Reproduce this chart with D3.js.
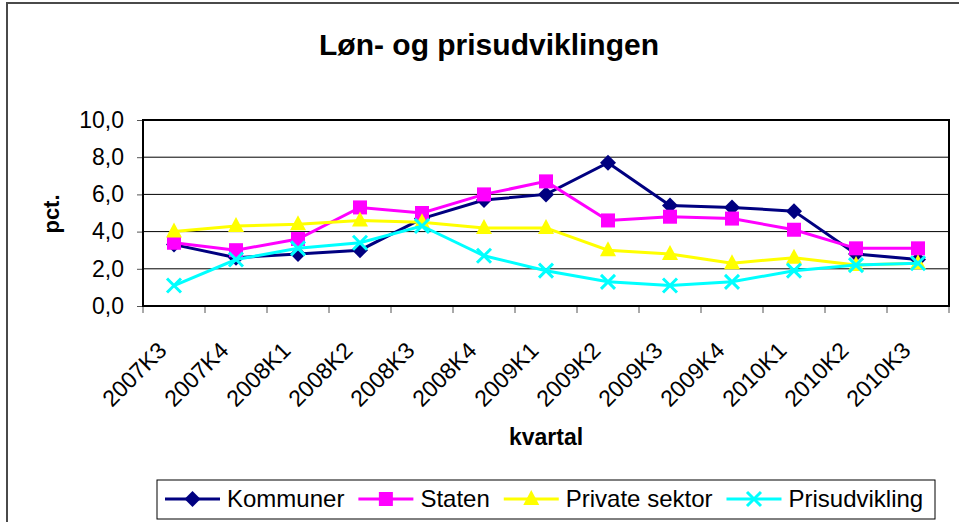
<!DOCTYPE html>
<html lang="da">
<head>
    <meta charset="UTF-8">
    <title>Løn- og prisudviklingen</title>
    <script src="https://d3js.org/d3.v7.min.js"></script>
    <style>
        body {
            margin: 0;
            background: #fff;
            font-family: Arial, "Liberation Sans", sans-serif;
        }
        svg text {
            fill: #000;
        }
    </style>
</head>
<body>
    <div id="chart"></div>

    <script>
        // quarters on the x axis
        const kvartaler = ["2007K3", "2007K4", "2008K1", "2008K2", "2008K3", "2008K4", "2009K1",
                           "2009K2", "2009K3", "2009K4", "2010K1", "2010K2", "2010K3"];

        // series values (pct.)
        const kommuner      = [3.3, 2.6, 2.8, 3.0, 4.7, 5.7, 6.0, 7.7, 5.4, 5.3, 5.1, 2.8, 2.5];
        const staten        = [3.4, 3.0, 3.6, 5.3, 5.0, 6.0, 6.7, 4.6, 4.8, 4.7, 4.1, 3.1, 3.1];
        const privateSektor = [4.0, 4.3, 4.4, 4.6, 4.5, 4.2, 4.2, 3.0, 2.8, 2.3, 2.6, 2.2, 2.3];
        const prisudvikling = [1.1, 2.5, 3.1, 3.4, 4.3, 2.7, 1.9, 1.3, 1.1, 1.3, 1.9, 2.2, 2.3];

        const yTicks = [0, 2, 4, 6, 8, 10];

        const series = [
            { name: "Kommuner", values: kommuner, color: "#000080", marker: "diamond" },
            { name: "Staten", values: staten, color: "#ff00ff", marker: "square" },
            { name: "Private sektor", values: privateSektor, color: "#ffff00", marker: "triangle" },
            { name: "Prisudvikling", values: prisudvikling, color: "#00ffff", marker: "cross" }
        ];

        const w = 959;
        const h = 522;
        const plot = { left: 143, right: 949, top: 120, bottom: 306 };

        const svg = d3.select("#chart")
            .append("svg")
            .attr("width", w)
            .attr("height", h);

        // outer chart frame (runs off the right and bottom edge)
        svg.append("rect")
            .attr("x", 7)
            .attr("y", 3)
            .attr("width", 970)
            .attr("height", 540)
            .attr("fill", "#fff")
            .attr("stroke", "#4a4a4a")
            .attr("stroke-width", 2);

        svg.append("text")
            .attr("x", 489)
            .attr("y", 55)
            .attr("text-anchor", "middle")
            .style("font-size", "30px")
            .style("font-weight", "bold")
            .text("Løn- og prisudviklingen");

        const xScale = d3.scaleBand()
            .domain(kvartaler)
            .range([plot.left, plot.right])
            .padding(0);

        const yScale = d3.scaleLinear()
            .domain([0, 10])
            .range([plot.bottom, plot.top]);

        const cx = d => xScale(d) + xScale.bandwidth() / 2;

        // gridlines
        svg.append("g")
            .selectAll("line")
            .data(yTicks.slice(1, -1))
            .enter()
            .append("line")
            .attr("x1", plot.left)
            .attr("x2", plot.right)
            .attr("y1", d => yScale(d))
            .attr("y2", d => yScale(d))
            .attr("stroke", "#000")
            .attr("stroke-width", 1);

        // y axis
        const yAxis = d3.axisLeft(yScale)
            .tickValues(yTicks)
            .tickSize(6)
            .tickPadding(13)
            .tickFormat(d => d3.format(".1f")(d).replace(".", ","));

        const gy = svg.append("g")
            .attr("transform", `translate(${plot.left}, 0)`)
            .call(yAxis);
        gy.select(".domain").remove();
        gy.selectAll(".tick line").attr("stroke", "#555");
        gy.selectAll(".tick text")
            .style("font-size", "23px")
            .style("font-family", "Arial, 'Liberation Sans', sans-serif");

        // x axis ticks at category boundaries
        const boundaries = kvartaler.map(d => xScale(d)).concat([plot.right]);
        svg.append("g")
            .selectAll("line")
            .data(boundaries)
            .enter()
            .append("line")
            .attr("x1", d => d)
            .attr("x2", d => d)
            .attr("y1", plot.bottom)
            .attr("y2", plot.bottom + 7)
            .attr("stroke", "#555")
            .attr("stroke-width", 1);

        svg.append("g")
            .selectAll("text")
            .data(kvartaler)
            .enter()
            .append("text")
            .attr("text-anchor", "end")
            .attr("transform", d => `translate(${cx(d) - 6}, ${plot.bottom + 46}) rotate(-45)`)
            .style("font-size", "23px")
            .text(d => d);

        // plot frame
        svg.append("rect")
            .attr("x", plot.left)
            .attr("y", plot.top)
            .attr("width", plot.right - plot.left)
            .attr("height", plot.bottom - plot.top)
            .attr("fill", "none")
            .attr("stroke", "#000")
            .attr("stroke-width", 2);

        // axis titles
        svg.append("text")
            .attr("transform", "translate(59, 214) rotate(-90)")
            .attr("text-anchor", "middle")
            .style("font-size", "22px")
            .style("font-weight", "bold")
            .text("pct.");

        svg.append("text")
            .attr("x", (plot.left + plot.right) / 2)
            .attr("y", 445)
            .attr("text-anchor", "middle")
            .style("font-size", "23px")
            .style("font-weight", "bold")
            .text("kvartal");

        // marker drawing
        function drawMarker(g, type, color) {
            if (type === "diamond") {
                g.append("path")
                    .attr("d", "M0,-8L8,0L0,8L-8,0Z")
                    .attr("fill", color);
            } else if (type === "square") {
                g.append("rect")
                    .attr("x", -7).attr("y", -7)
                    .attr("width", 14).attr("height", 14)
                    .attr("fill", color);
            } else if (type === "triangle") {
                g.append("path")
                    .attr("d", "M0,-9L8,6L-8,6Z")
                    .attr("fill", color);
            } else {
                g.append("path")
                    .attr("d", "M-7,-7L7,7M-7,7L7,-7")
                    .attr("stroke", color)
                    .attr("stroke-width", 3)
                    .attr("fill", "none");
            }
        }

        const line = d3.line()
            .x((d, i) => cx(kvartaler[i]))
            .y(d => yScale(d));

        series.forEach(s => {
            svg.append("path")
                .datum(s.values)
                .attr("d", line)
                .attr("fill", "none")
                .attr("stroke", s.color)
                .attr("stroke-width", 3);

            s.values.forEach((v, i) => {
                const g = svg.append("g")
                    .attr("transform", `translate(${cx(kvartaler[i])}, ${yScale(v)})`);
                drawMarker(g, s.marker, s.color);
            });
        });

        // legend
        const legend = svg.append("g");
        legend.append("rect")
            .attr("x", 157)
            .attr("y", 480)
            .attr("width", 778)
            .attr("height", 39)
            .attr("fill", "#fff")
            .attr("stroke", "#000")
            .attr("stroke-width", 1);

        let lx = 165;
        series.forEach(s => {
            legend.append("line")
                .attr("x1", lx)
                .attr("x2", lx + 55)
                .attr("y1", 499)
                .attr("y2", 499)
                .attr("stroke", s.color)
                .attr("stroke-width", 3);
            const g = legend.append("g")
                .attr("transform", `translate(${lx + 27.5}, 499)`);
            drawMarker(g, s.marker, s.color);
            const t = legend.append("text")
                .attr("x", lx + 62)
                .attr("y", 507)
                .style("font-size", "24px")
                .text(s.name);
            lx = lx + 62 + t.node().getComputedTextLength() + 14;
        });
    </script>
</body>
</html>
